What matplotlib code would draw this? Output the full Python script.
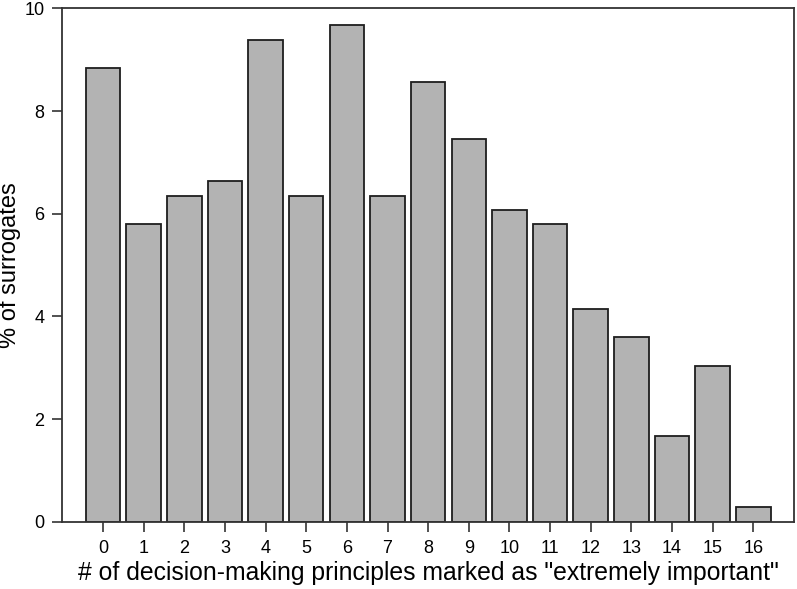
import matplotlib
matplotlib.use("Agg")
import matplotlib.pyplot as plt

plt.rcParams["font.family"] = ["Liberation Sans", "DejaVu Sans"]

# number of principles marked "extremely important"
categories = list(range(17))
# % of surrogates
percent = [8.84, 5.80, 6.35, 6.63, 9.39, 6.35, 9.67, 6.35, 8.56,
           7.46, 6.08, 5.80, 4.14, 3.59, 1.66, 3.04, 0.28]
y_ticks = [0, 2, 4, 6, 8, 10]

fig = plt.figure(figsize=(7.97, 5.89), dpi=100)
ax = fig.add_axes([0.0782, 0.1143, 0.918, 0.8713])

ax.bar(categories, percent, width=0.85, color="#b3b3b3",
       edgecolor="#1e1e1e", linewidth=1.3)

ax.set_xlim(-1, 17)
ax.set_ylim(0, 10)
ax.set_xticks(categories)
ax.set_yticks(y_ticks)
ax.tick_params(axis="both", direction="out", length=7, width=1.2,
               color="#333333", labelsize=13, pad=6)
for sp in ax.spines.values():
    sp.set_linewidth(1.3)
    sp.set_color("#333333")

ax.set_xlabel('# of decision-making principles marked as "extremely important"',
              fontsize=17.8, labelpad=3)
ax.set_ylabel("% of surrogates", fontsize=17)
ax.yaxis.set_label_coords(-0.056, 0.5)

fig.savefig("out.png", dpi=100)
plt.close(fig)
